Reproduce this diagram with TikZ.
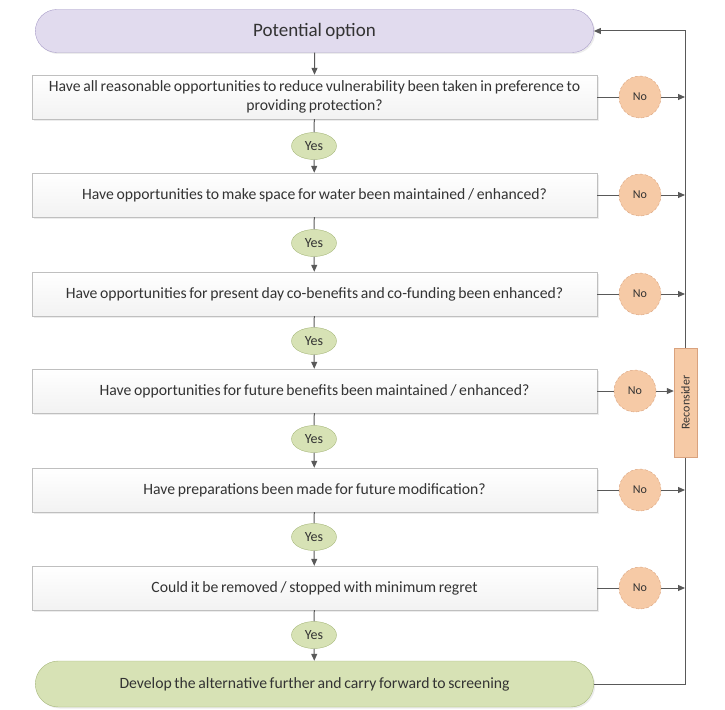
\documentclass[tikz,border=0pt]{standalone}
\usepackage{fontspec}
\setmainfont{Carlito}[WordSpace=0.75]
\usetikzlibrary{shapes.geometric,shapes.misc,arrows.meta,shadows}
\hyphenpenalty=10000
\exhyphenpenalty=10000
\definecolor{txt}{HTML}{333333}
\definecolor{lineg}{HTML}{595959}
\definecolor{boxedge}{HTML}{BFBFBF}
\definecolor{purp}{HTML}{E1DBEE}
\definecolor{purpedge}{HTML}{A89CC8}
\definecolor{grn}{HTML}{D7E2B5}
\definecolor{grnedge}{HTML}{A6B77A}
\definecolor{orng}{HTML}{F6CAA6}
\definecolor{orngedge}{HTML}{D9A27E}
\tikzset{
  qbox/.style={rectangle, draw=boxedge, top color=white, bottom color=gray!10,
    minimum width=565pt, minimum height=44pt, inner xsep=2pt, align=center,
    font=\fontsize{15.7}{19}\selectfont, text=txt,
    drop shadow={opacity=0.15, shadow xshift=1.5pt, shadow yshift=-1.5pt}},
  term/.style={rounded rectangle, minimum width=565pt, minimum height=43pt,
    text=txt, drop shadow={opacity=0.15, shadow xshift=1.5pt, shadow yshift=-1.5pt}},
  yesnode/.style={ellipse, draw=grnedge, fill=grn, minimum width=45pt, minimum height=27pt,
    inner sep=0pt, font=\fontsize{14}{16}\selectfont, text=txt},
  nonode/.style={circle, draw=orngedge, densely dashed, fill=orng, minimum size=42pt,
    inner sep=0pt, font=\fontsize{12}{14}\selectfont, text=txt},
  conn/.style={draw=lineg, line width=1pt},
  arr/.style={conn, -{Triangle[length=7pt,width=6pt]}},
}
\begin{document}
\begin{tikzpicture}[x=1pt,y=-1pt]
\useasboundingbox (0,0) rectangle (725,709);

\node[term, fill=purp, draw=purpedge, font=\fontsize{19}{21}\selectfont] (top) at (314.5,31) {Potential option};
\node[qbox] (q1) at (314.5,97) {Have all reasonable opportunities to reduce vulnerability been taken in preference to\\providing protection?};
\node[qbox] (q2) at (314.5,195) {Have opportunities to make space for water been maintained / enhanced?};
\node[qbox] (q3) at (314.5,294) {Have opportunities for present day co-benefits and co-funding been enhanced?};
\node[qbox] (q4) at (314.5,391) {Have opportunities for future benefits been maintained / enhanced?};
\node[qbox] (q5) at (314.5,490) {Have preparations been made for future modification?};
\node[qbox] (q6) at (314.5,588) {Could it be removed / stopped with minimum regret};
\node[term, fill=grn, draw=grnedge, minimum height=46pt, font=\fontsize{15.7}{17}\selectfont] (bot) at (314.5,684) {Develop the alternative further and carry forward to screening};

\node[yesnode] (y1) at (314,146) {Yes};
\node[yesnode] (y2) at (314,243) {Yes};
\node[yesnode] (y3) at (314,341) {Yes};
\node[yesnode] (y4) at (314,439) {Yes};
\node[yesnode] (y5) at (314,537) {Yes};
\node[yesnode] (y6) at (314,635) {Yes};

\node[nonode] (n1) at (640,97) {No};
\node[nonode] (n2) at (640,195) {No};
\node[nonode] (n3) at (640,294) {No};
\node[nonode] (n4) at (635,391) {No};
\node[nonode] (n5) at (640,490) {No};
\node[nonode] (n6) at (640,588) {No};

\coordinate (vtop) at (685,31);
\coordinate (vbot) at (685,684);
\coordinate (c1) at (685,97);
\coordinate (c2) at (685,195);
\coordinate (c3) at (685,294);
\coordinate (c5) at (685,490);
\coordinate (c6) at (685,588);

% feedback line
\draw[arr] (bot.east) -- (vbot) -- (vtop) -- (top.east);

\node[rectangle, draw=orngedge, fill=orng, minimum width=23pt, minimum height=109pt,
  inner sep=0pt] (rec) at (685.5,402.5) {};
\node[rotate=90, font=\fontsize{12}{14}\selectfont, text=txt] (reclabel) at (rec.center) {Reconsider};

% main flow
\draw[arr] (top) -- (q1);
\foreach \a/\b/\c in {q1/y1/q2, q2/y2/q3, q3/y3/q4, q4/y4/q5, q5/y5/q6}{
  \draw[conn] (\a) -- (\b);
  \draw[arr] (\b) -- (\c);
}
\draw[conn] (q6) -- (y6);
\draw[arr] (y6) -- (bot);

% no branches
\foreach \q/\n/\c in {q1/n1/c1, q2/n2/c2, q3/n3/c3, q5/n5/c5, q6/n6/c6}{
  \draw[conn] (\q) -- (\n);
  \draw[arr] (\n) -- (\c);
}
\draw[conn] (q4) -- (n4);
\draw[arr] (n4) -- (rec.west |- n4);
\end{tikzpicture}
\end{document}
